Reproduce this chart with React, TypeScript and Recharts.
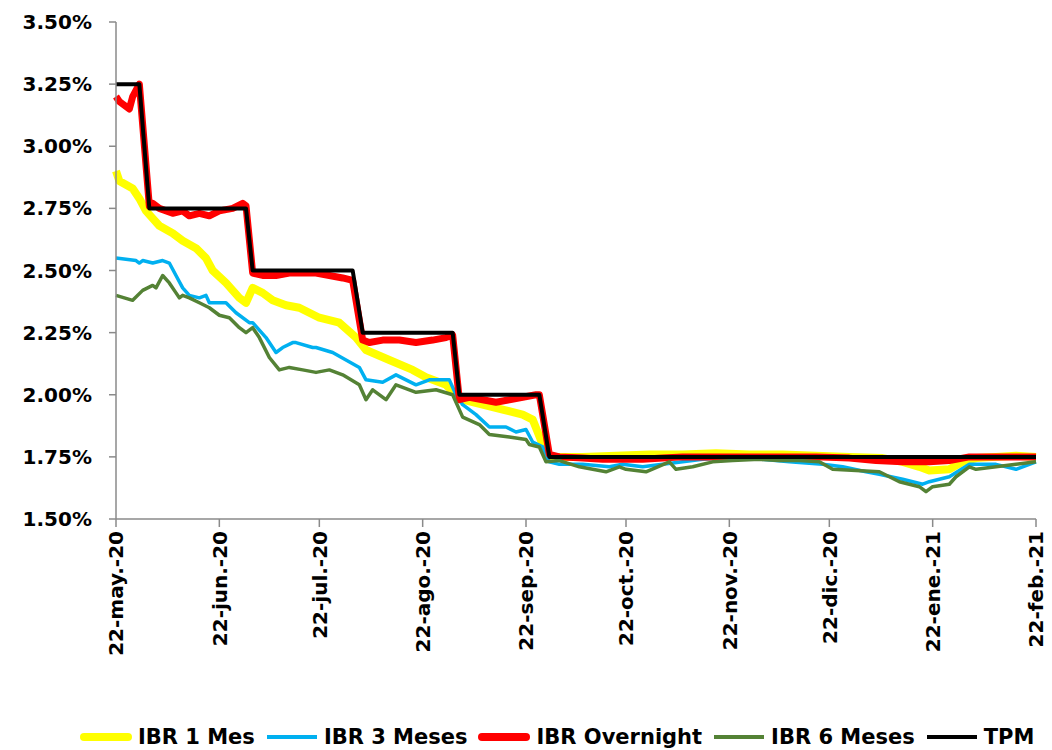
import { LineChart, Line, XAxis, YAxis, Legend } from "recharts"

// day offsets from 22-may-20, values in %
const xTickDays = [0, 31, 61, 92, 123, 153, 184, 214, 245, 276]
const xTickLabels = [
  "22-may.-20",
  "22-jun.-20",
  "22-jul.-20",
  "22-ago.-20",
  "22-sep.-20",
  "22-oct.-20",
  "22-nov.-20",
  "22-dic.-20",
  "22-ene.-21",
  "22-feb.-21",
]
const yTicks = [1.5, 1.75, 2.0, 2.25, 2.5, 2.75, 3.0, 3.25, 3.5]

const ibr1Mes: [number, number][] = [
  [0, 2.9], [1, 2.86], [5, 2.83], [7, 2.79], [9, 2.74], [11, 2.71], [13, 2.68],
  [17, 2.65], [20, 2.62], [24, 2.59], [27, 2.55], [29, 2.5], [33, 2.45], [37, 2.39],
  [39, 2.37], [41, 2.43], [44, 2.41], [47, 2.38], [51, 2.36], [55, 2.35], [61, 2.31],
  [67, 2.29], [72, 2.23], [75, 2.18], [82, 2.14], [89, 2.1], [93, 2.07], [99, 2.04],
  [102, 2.0], [104, 1.98], [110, 1.96], [116, 1.94], [122, 1.92], [125, 1.9],
  [128, 1.8], [129, 1.76], [131, 1.75], [140, 1.75], [150, 1.755], [160, 1.76],
  [170, 1.76], [180, 1.765], [190, 1.76], [200, 1.76], [210, 1.755], [220, 1.75],
  [230, 1.745], [236, 1.73], [241, 1.71], [244, 1.695], [250, 1.7], [254, 1.73],
  [258, 1.745], [264, 1.75], [270, 1.755], [276, 1.75],
]

const ibr3Meses: [number, number][] = [
  [0, 2.55], [6, 2.54], [7, 2.53], [8, 2.54], [11, 2.53], [14, 2.54], [16, 2.53],
  [18, 2.48], [20, 2.43], [22, 2.4], [25, 2.39], [27, 2.4], [28, 2.37], [33, 2.37],
  [36, 2.33], [40, 2.29], [41, 2.29], [45, 2.23], [48, 2.17], [50, 2.19], [53, 2.21],
  [54, 2.21], [59, 2.19], [60, 2.19], [65, 2.17], [69, 2.14], [73, 2.11], [75, 2.06],
  [80, 2.05], [84, 2.08], [90, 2.04], [94, 2.06], [100, 2.06], [102, 2.0], [104, 1.96],
  [108, 1.92], [112, 1.87], [117, 1.87], [120, 1.85], [123, 1.86], [125, 1.81],
  [128, 1.79], [130, 1.73], [133, 1.72], [140, 1.72], [148, 1.71], [152, 1.72],
  [158, 1.71], [164, 1.72], [170, 1.73], [176, 1.74], [182, 1.745], [190, 1.745],
  [202, 1.73], [212, 1.72], [218, 1.71], [225, 1.69], [229, 1.68], [236, 1.66],
  [242, 1.64], [244, 1.65], [250, 1.67], [256, 1.72], [264, 1.72], [270, 1.7],
  [276, 1.73],
]

const ibrOvernight: [number, number][] = [
  [0, 3.2], [1, 3.18], [3, 3.16], [4, 3.15], [5, 3.2], [7, 3.25], [10, 2.76],
  [11, 2.77], [13, 2.75], [17, 2.73], [20, 2.74], [22, 2.72], [25, 2.73], [28, 2.72],
  [31, 2.74], [35, 2.75], [38, 2.77], [39, 2.76], [41, 2.49], [44, 2.48], [48, 2.48],
  [52, 2.49], [56, 2.49], [60, 2.49], [64, 2.48], [68, 2.47], [71, 2.46], [74, 2.22],
  [76, 2.21], [80, 2.22], [85, 2.22], [90, 2.21], [95, 2.22], [99, 2.23], [101, 2.24],
  [103, 1.98], [106, 1.99], [110, 1.98], [114, 1.97], [118, 1.98], [122, 1.99],
  [126, 2.0], [127, 2.0], [130, 1.76], [133, 1.75], [140, 1.745], [146, 1.74],
  [152, 1.74], [158, 1.74], [164, 1.745], [170, 1.75], [180, 1.75], [190, 1.75],
  [200, 1.75], [210, 1.75], [220, 1.745], [228, 1.735], [236, 1.73], [244, 1.73],
  [250, 1.735], [256, 1.75], [264, 1.75], [270, 1.75], [276, 1.75],
]

const ibr6Meses: [number, number][] = [
  [0, 2.4], [5, 2.38], [8, 2.42], [11, 2.44], [12, 2.43], [14, 2.48], [16, 2.45],
  [18, 2.41], [19, 2.39], [20, 2.4], [22, 2.39], [25, 2.37], [28, 2.35], [31, 2.32],
  [34, 2.31], [37, 2.27], [39, 2.25], [41, 2.27], [43, 2.23], [46, 2.15], [49, 2.1],
  [52, 2.11], [56, 2.1], [60, 2.09], [64, 2.1], [68, 2.08], [73, 2.04], [75, 1.98],
  [77, 2.02], [81, 1.98], [84, 2.04], [90, 2.01], [96, 2.02], [101, 2.0], [104, 1.91],
  [109, 1.88], [112, 1.84], [118, 1.83], [123, 1.82], [124, 1.8], [127, 1.79],
  [129, 1.73], [133, 1.735], [139, 1.71], [147, 1.69], [151, 1.71], [153, 1.7],
  [159, 1.69], [166, 1.73], [168, 1.7], [173, 1.71], [179, 1.73], [185, 1.735],
  [193, 1.74], [199, 1.735], [205, 1.735], [211, 1.73], [215, 1.7], [229, 1.69],
  [235, 1.65], [241, 1.63], [243, 1.61], [245, 1.63], [250, 1.64], [252, 1.67],
  [256, 1.71], [258, 1.7], [264, 1.71], [270, 1.72], [276, 1.73],
]

const tpm: [number, number][] = [
  [0, 3.25], [7, 3.25], [10, 2.75], [39, 2.75], [41, 2.5], [71, 2.5], [74, 2.25],
  [101, 2.25], [103, 2.0], [127, 2.0], [130, 1.75], [276, 1.75],
]

const toPts = (arr: [number, number][]) => arr.map(([d, v]) => ({ d, v }))

const series = [
  { name: "IBR 1 Mes", color: "#FFFF00", width: 8, data: toPts(ibr1Mes) },
  { name: "IBR 3 Meses", color: "#00B0F0", width: 3.5, data: toPts(ibr3Meses) },
  { name: "IBR Overnight", color: "#FF0000", width: 7, data: toPts(ibrOvernight) },
  { name: "IBR 6 Meses", color: "#548235", width: 3.5, data: toPts(ibr6Meses) },
  { name: "TPM", color: "#000000", width: 4, data: toPts(tpm) },
]

const FONT = "'DejaVu Sans', Verdana, sans-serif"
const AXIS = "#8a8a8a"

const XTick = ({ x, y, payload }: any) => {
  const i = xTickDays.indexOf(payload.value)
  return (
    <g transform={`translate(${x},${y})`}>
      <text
        transform="rotate(-90)"
        textAnchor="end"
        dy="0.36em"
        x={-2}
        fontFamily={FONT}
        fontWeight="bold"
        fontSize={20}
        fill="#000"
      >
        {xTickLabels[i]}
      </text>
    </g>
  )
}

const LegendContent = () => (
  <div
    style={{
      display: "flex",
      alignItems: "center",
      height: 30,
      paddingLeft: 80,
      fontFamily: FONT,
      fontWeight: "bold",
      fontSize: 21,
      color: "#000",
      whiteSpace: "nowrap",
    }}
  >
    {series.map((s) => (
      <div key={s.name} style={{ display: "flex", alignItems: "center", marginRight: 11 }}>
        <svg width={52} height={12} style={{ marginRight: 6 }}>
          <line
            x1={s.width > 5 ? 4 : 1}
            x2={s.width > 5 ? 48 : 51}
            y1={6}
            y2={6}
            stroke={s.color}
            strokeWidth={s.width > 5 ? 8 : 4}
            strokeLinecap={s.width > 5 ? "round" : "butt"}
          />
        </svg>
        <span>{s.name}</span>
      </div>
    ))}
  </div>
)

export default function App() {
  return (
    <div style={{ position: "absolute", left: 0, top: 0, background: "#fff" }}>
      <LineChart width={1052} height={750} margin={{ top: 22, right: 16, left: 0, bottom: 0 }}>
        <XAxis
          dataKey="d"
          type="number"
          domain={[0, 276]}
          ticks={xTickDays}
          interval={0}
          height={231}
          tick={<XTick />}
          tickSize={8}
          tickMargin={2}
          stroke={AXIS}
          strokeWidth={1.5}
          allowDuplicatedCategory={false}
        />
        <YAxis
          type="number"
          domain={[1.5, 3.5]}
          ticks={yTicks}
          interval={0}
          width={116}
          tickSize={7}
          tickMargin={17}
          stroke={AXIS}
          strokeWidth={1.5}
          tickFormatter={(v: number) => `${v.toFixed(2)}%`}
          tick={{ fontFamily: FONT, fontWeight: "bold", fontSize: 20, fill: "#000" }}
        />
        <Legend
          layout="horizontal"
          verticalAlign="middle"
          align="center"
          content={<LegendContent />}
          wrapperStyle={{ left: 0, top: 722, width: 1052, height: 30 }}
        />
        {series.map((s) => (
          <Line
            key={s.name}
            data={s.data}
            dataKey="v"
            name={s.name}
            type="linear"
            stroke={s.color}
            strokeWidth={s.width}
            strokeLinejoin="round"
            dot={false}
            activeDot={false}
            isAnimationActive={false}
          />
        ))}
      </LineChart>
    </div>
  )
}
